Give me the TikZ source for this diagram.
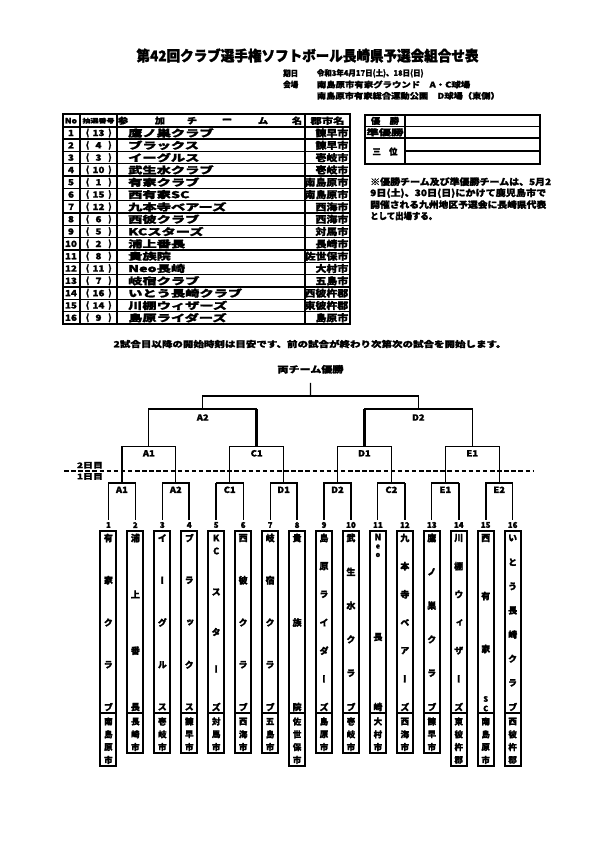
\documentclass[tikz,border=0pt]{standalone}
\usepackage{fontspec}
\setmainfont{Noto Sans CJK JP}[BoldFeatures={FakeBold=1.6}]
\newfontfamily\jpv{Noto Sans CJK JP}[RawFeature=+vert,BoldFeatures={FakeBold=1.6}]
\usepackage{graphicx}
\newlength\fitlen
\newcommand\fitw[2]{\settowidth\fitlen{#2}\pgfmathsetmacro\fitr{#1/\fitlen}\scalebox{\fitr}[1]{#2}}
\newcommand\fs[1]{\fontsize{#1}{#1}\selectfont}
\newcommand\teambox[3]{%
  \pgfmathsetmacro\tx{108.4+26.95*(#1-1)}
  \node[tnum] (n#1) at (\tx,525) {#1};
  \draw[box] (\tx-8,530.5) rectangle (\tx+8,713);
  \pgfmathsetmacro\cb{713+12.8*#2+2}
  \draw[box] (\tx-8,713) rectangle (\tx+8,\cb);
  \foreach \ch [count=\k from 0] in {#3} {\node[cch] (ct#1-\k) at (\tx,721.5+12.8*\k) {\ch};}
}
\newcommand\vname[3]{%
  \pgfmathsetmacro\tx{108.4+26.95*(#1-1)}
  \pgfmathsetmacro\dy{169/(#2-1)}
  \foreach \ch [count=\k from 0] in {#3} {\node[vch] (v#1-\k) at (\tx,538+\dy*\k) {\ch};}
}
\newcommand\vat[4]{%
  \pgfmathsetmacro\tx{108.4+26.95*(#1-1)}
  \node[vch] (#4) at (\tx,#2) {#3};
}
\begin{document}
\begin{tikzpicture}[x=1pt,y=-1pt,
  every node/.style={inner sep=0pt},
  ln/.style={line width=1.1pt},
  lnT/.style={line width=2.4pt},
  tl/.style={line width=1.3pt},
  box/.style={line width=2pt},
  tnum/.style={font=\bfseries\fs{8}},
  vch/.style={font=\jpv\bfseries\fs{9}},
  cch/.style={font=\bfseries\fs{8.5}},
  lab/.style={font=\bfseries\fs{8.5}},
  tab/.style={font=\bfseries\fs{8.5}}]
\useasboundingbox (0,0) rectangle (595,842);
\fill[white] (0,0) rectangle (595,842);

% title and info
\node[font=\bfseries\fs{14.5}] (title) at (307.5,55.5) {\fitw{342}{第42回クラブ選手権ソフトボール長崎県予選会組合せ表}};
\node[anchor=west,font=\bfseries\fs{8}] (kd) at (283,73.3) {\fitw{15}{期日}};
\node[anchor=west,font=\bfseries\fs{8}] (kd2) at (316.7,73.3) {\fitw{106.7}{令和3年4月17日(土)、18日(日)}};
\node[anchor=west,font=\bfseries\fs{8}] (kj) at (283,84.5) {\fitw{15}{会場}};
\node[anchor=west,font=\bfseries\fs{8}] (kj2) at (316.7,84.5) {\fitw{153.3}{南島原市有家グラウンド　A・C球場}};
\node[anchor=west,font=\bfseries\fs{8}] (kj3) at (316.7,95.8) {\fitw{183}{南島原市有家総合運動公園　D球場（東側）}};

% participants table
\draw[box] (62.5,114.5) rectangle (350,323.9);
\foreach \r in {1,...,16} {\draw[tl] (62.5,114.5+12.32*\r) -- (350,114.5+12.32*\r);}
\draw[box] (62.5,126.82) -- (350,126.82);
\foreach \xx in {80,117,305} {\draw[tl] (\xx,114.5) -- (\xx,323.9);}
\node[font=\bfseries\fs{7.5}] (hNo) at (71,120.7) {\fitw{12}{No}};
\node[font=\bfseries\fs{6}] (hLot) at (98.5,120.7) {\fitw{32}{抽選番号}};
\foreach \ch/\xx [count=\k] in {参/123,加/160,チ/192,ー/227,ム/263,名/297} {\node[font=\bfseries\fs{8.5}] (hN\k) at (\xx,120.7) {\scalebox{1.2}[1]{\ch}};}
\node[font=\bfseries\fs{8.5}] (hCity) at (327.5,120.7) {\fitw{34}{郡市名}};
\foreach \no/\lot/\nm/\ct [count=\r] in {1/13/鷹ノ巣クラブ/諫早市, 2/4/ブラックス/諫早市, 3/3/イーグルス/壱岐市, 4/10/武生水クラブ/壱岐市, 5/1/有家クラブ/南島原市, 6/15/西有家SC/南島原市, 7/12/九本寺ベアーズ/西海市, 8/6/西彼クラブ/西海市, 9/5/KCスターズ/対馬市, 10/2/浦上番長/長崎市, 11/8/貴族院/佐世保市, 12/11/Neo長崎/大村市, 13/7/岐宿クラブ/五島市, 14/16/いとう長崎クラブ/西彼杵郡, 15/14/川棚ウィザーズ/東彼杵郡, 16/9/島原ライダーズ/島原市} {
  \pgfmathsetmacro\yy{114.5+12.32*(\r+0.5)}
  \node[tab] (no\r) at (71,\yy) {\scalebox{1.15}[1]{\no}};
  \node[tab] (lp\r) at (87.5,\yy) {(};
  \node[tab] (lot\r) at (98.5,\yy) {\scalebox{1.15}[1]{\lot}};
  \node[tab] (rp\r) at (110,\yy) {)};
  \node[anchor=west,font=\bfseries\fs{9.5}] (nm\r) at (128,\yy) {\scalebox{1.5}[1]{\nm}};
  \node[anchor=east,font=\bfseries\fs{9.5}] (cy\r) at (348.5,\yy) {\scalebox{1.15}[1]{\ct}};
}

% results table
\draw[box] (365,115) rectangle (540,164);
\draw[tl] (365,126.5) -- (540,126.5);
\draw[box] (365,138) -- (540,138);
\draw[tl] (405,151) -- (540,151);
\draw[tl] (405,115) -- (405,164);
\node[font=\bfseries\fs{8.5}] (yu) at (385,120.9) {\fitw{28}{優　勝}};
\node[font=\bfseries\fs{8.5}] (jun) at (385,132.3) {\fitw{37}{準優勝}};
\node[font=\bfseries\fs{8.5}] (san) at (385,151.5) {\fitw{25}{三　位}};

% note
\node[anchor=west,font=\bfseries\fs{9}] (nt1) at (370,181.7) {\fitw{181}{※優勝チーム及び準優勝チームは、5月2}};
\node[anchor=west,font=\bfseries\fs{9}] (nt2) at (370,193.2) {\fitw{176}{9日(土)、30日(日)にかけて鹿児島市で}};
\node[anchor=west,font=\bfseries\fs{9}] (nt3) at (370,204.6) {\fitw{176}{開催される九州地区予選会に長崎県代表}};
\node[anchor=west,font=\bfseries\fs{9}] (nt4) at (370,216) {\fitw{67}{として出場する。}};

% sentence
\node[font=\bfseries\fs{8.5}] (sent) at (310,344) {\fitw{393}{2試合目以降の開始時刻は目安です、前の試合が終わり次第次の試合を開始します。}};

% bracket header
\node[font=\bfseries\fs{9}] (champ) at (310.5,369.3) {\fitw{66}{両チーム優勝}};

% teams
\teambox{1}{4}{南,島,原,市}
\teambox{2}{3}{長,崎,市}
\teambox{3}{3}{壱,岐,市}
\teambox{4}{3}{諫,早,市}
\teambox{5}{3}{対,馬,市}
\teambox{6}{3}{西,海,市}
\teambox{7}{3}{五,島,市}
\teambox{8}{4}{佐,世,保,市}
\teambox{9}{3}{島,原,市}
\teambox{10}{3}{壱,岐,市}
\teambox{11}{3}{大,村,市}
\teambox{12}{3}{西,海,市}
\teambox{13}{3}{諫,早,市}
\teambox{14}{4}{東,彼,杵,郡}
\teambox{15}{4}{南,島,原,市}
\teambox{16}{4}{西,彼,杵,郡}
\vname{1}{5}{有,家,ク,ラ,ブ}
\vname{2}{4}{浦,上,番,長}
\vname{3}{5}{イ,ー,グ,ル,ス}
\vname{4}{5}{ブ,ラ,ッ,ク,ス}
\vat{5}{538}{K}{v5a}\vat{5}{551}{C}{v5b}\vat{5}{592}{ス}{v5c}\vat{5}{632}{タ}{v5d}\vat{5}{669}{ー}{v5e}\vat{5}{707}{ズ}{v5f}
\vname{6}{5}{西,彼,ク,ラ,ブ}
\vname{7}{5}{岐,宿,ク,ラ,ブ}
\vname{8}{3}{貴,族,院}
\vname{9}{7}{島,原,ラ,イ,ダ,ー,ズ}
\vname{10}{6}{武,生,水,ク,ラ,ブ}
\vat{11}{537}{N}{v11a}\vat{11}{546.5}{\fs{7}e}{v11b}\vat{11}{555}{\fs{7}o}{v11c}\vat{11}{637}{長}{v11d}\vat{11}{707}{崎}{v11e}
\vname{12}{7}{九,本,寺,ベ,ア,ー,ズ}
\vname{13}{6}{鷹,ノ,巣,ク,ラ,ブ}
\vname{14}{7}{川,棚,ウ,ィ,ザ,ー,ズ}
\vat{15}{538}{西}{v15a}\vat{15}{596}{有}{v15b}\vat{15}{649}{家}{v15c}\vat{15}{699}{\fs{7.5}S}{v15d}\vat{15}{708.5}{\fs{7.5}C}{v15e}
\vname{16}{8}{い,と,う,長,崎,ク,ラ,ブ}

% first round
\foreach \a/\lab/\wl/\wr in {1/A1/1.1/1.1, 3/A2/1.1/2.4, 5/C1/2.4/1.1, 7/D1/1.1/2.4, 9/D2/2.4/1.1, 11/C2/1.1/2.4, 13/E1/1.1/2.4, 15/E2/2.4/1.1} {
  \pgfmathsetmacro\xl{108.4+26.95*(\a-1)}
  \pgfmathsetmacro\xr{\xl+26.95}
  \pgfmathtruncatemacro\b{\a+1}
  \draw[ln] (n\a.north) ++(0,-2) |- (\xr,483) -- ([yshift=2pt]n\b.north);
  \draw[line width=\wl pt] (\xl,483) -- ([yshift=2pt]n\a.north);
  \draw[line width=\wr pt] (\xr,483) -- ([yshift=2pt]n\b.north);
  \node[lab] (m\a) at ({(\xl+\xr)/2},489.8) {\scalebox{1.1}[1]{\lab}};
}
\draw[lnT] (162.3,483) -- (171,483);

% second round (day 2)
\foreach \l/\r/\lab/\k in {121.875/175.775/A1/1, 229.675/283.575/C1/2, 337.475/391.375/D1/3, 445.275/499.175/E1/4} {
  \draw[ln] (\l,483) |- (\r,446.7) -- (\r,483);
  \node[lab] (g\k) at ({(\l+\r)/2},453.3) {\scalebox{1.1}[1]{\lab}};
}
\draw[lnT] (121.875,446.7) -- (121.875,483);

% semifinals
\draw[ln] (148.825,446.7) |- (256.625,409) -- (256.625,446.7);
\draw[lnT] (256.625,409) -- (256.625,446.7);
\node[lab] (sA2) at (202.725,417.5) {\scalebox{1.1}[1]{A2}};
\draw[ln] (364.425,446.7) |- (472.225,409) -- (472.225,446.7);
\draw[lnT] (364.425,409) -- (364.425,446.7);
\node[lab] (sD2) at (418.325,417.5) {\scalebox{1.1}[1]{D2}};

% final
\coordinate (fin) at (310.525,396);
\draw[ln] (202.725,409) |- (418.325,396) -- (418.325,409);
\draw[ln] (fin) -- ([yshift=-9pt]champ.south);

% day divider
\draw[line width=1.5pt, dash pattern=on 4.5pt off 2.6pt] (64,471) -- (533,471);
\node[font=\bfseries\fs{7.5}] (day2) at (90,465.3) {\fitw{26}{2日目}};
\node[font=\bfseries\fs{7.5}] (day1) at (90,476.5) {\fitw{26}{1日目}};
\end{tikzpicture}
\end{document}
